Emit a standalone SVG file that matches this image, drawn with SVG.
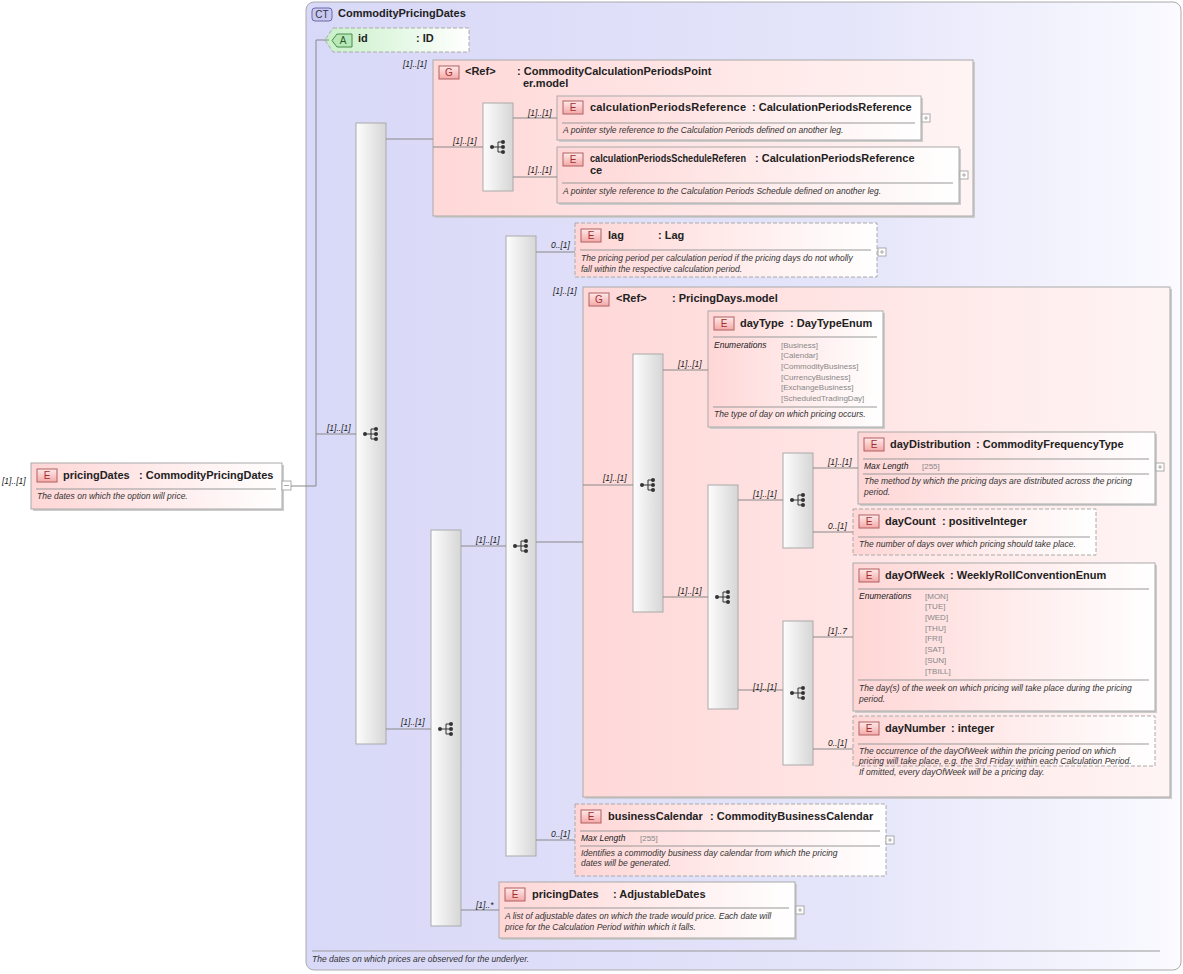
<svg xmlns="http://www.w3.org/2000/svg" width="1183" height="974" viewBox="0 0 1183 974">
<defs>
<linearGradient id="gct" x1="0" x2="1" y1="0" y2="0"><stop offset="0" stop-color="#d8d8f8"/><stop offset="0.6" stop-color="#e4e4fa"/><stop offset="1" stop-color="#fafaff"/></linearGradient>
<linearGradient id="gel" x1="0" x2="1" y1="0" y2="0"><stop offset="0" stop-color="#ffd6d6"/><stop offset="1" stop-color="#ffffff"/></linearGradient>
<linearGradient id="ggr" x1="0" x2="1" y1="0" y2="0"><stop offset="0" stop-color="#ffd8d8"/><stop offset="1" stop-color="#fff4f4"/></linearGradient>
<linearGradient id="gat" x1="0" x2="1" y1="0" y2="0"><stop offset="0" stop-color="#c8f0c8"/><stop offset="1" stop-color="#ffffff"/></linearGradient>
<linearGradient id="gseq" x1="0" x2="1" y1="0" y2="0"><stop offset="0" stop-color="#fdfdfd"/><stop offset="1" stop-color="#d6d6d6"/></linearGradient>
<linearGradient id="gbad" x1="0" x2="0" y1="0" y2="1"><stop offset="0" stop-color="#ffeaea"/><stop offset="1" stop-color="#f4a8a8"/></linearGradient>
<symbol id="seqi" viewBox="-9 -9 18 18" width="18" height="18" overflow="visible">
<circle cx="-6" cy="0" r="2" fill="#333"/><path d="M-6 0H0M0 -5V5M0 -5H5M0 0H5M0 5H5" stroke="#333" fill="none" stroke-width="1"/>
<circle cx="5" cy="-5" r="2" fill="#333"/><circle cx="5" cy="0" r="2" fill="#333"/><circle cx="5" cy="5" r="2" fill="#333"/>
</symbol>
</defs>
<style>
text{font-family:"Liberation Sans",Arial,sans-serif;fill:#222}
.n{font-size:11px;font-weight:bold}
.d{font-size:8.5px;font-style:italic;fill:#333}
.m{font-size:8.5px;font-style:italic;fill:#222}
.v{font-size:8px;fill:#888}
.b{font-size:10px;fill:#a03030;text-anchor:middle}
.el{fill:url(#gel);stroke:#aaa;stroke-width:1}
.sh{fill:#ccc;stroke:none}
.dash{stroke-dasharray:4 2}
.sep{stroke:#999;stroke-width:1}
.bad{fill:url(#gbad);stroke:#b06060;stroke-width:1}
.seq{fill:url(#gseq);stroke:#aaa;stroke-width:1}
.c path{stroke:#888;fill:none;stroke-width:1}
.pl{fill:#fff;stroke:#aaa}
.pls{stroke:#aaa}
</style>
<g id="ct">
<rect x="306" y="2" width="875" height="968" rx="8" fill="url(#gct)" stroke="#aaa"/>
<rect x="312" y="8" width="20" height="13" rx="3" fill="#c8c8f0" stroke="#6a6aa8"/>
<text x="322" y="18" style="font-size:10px;fill:#334;text-anchor:middle">CT</text>
<text x="338" y="17" class="n">CommodityPricingDates</text>
<path d="M312 951H1160" class="sep"/>
<text x="312" y="962" class="d">The dates on which prices are observed for the underlyer.</text>
</g>
<g id="root">
<rect x="33" y="465" width="251" height="46" class="sh"/>
<rect x="31" y="463" width="251" height="46" class="el"/>
<rect x="37" y="469" width="20" height="13" class="bad"/><text x="47" y="479" class="b">E</text>
<text x="63" y="479" class="n">pricingDates</text><text x="139" y="479" class="n">: CommodityPricingDates</text>
<path d="M36 489H276" class="sep"/>
<text x="37" y="499" class="d">The dates on which the option will price.</text>
<rect x="282" y="481" width="9" height="9" class="pl"/><path d="M284 485.5H289" class="pls"/>
</g>
<g id="attr-id">
<path d="M333 28H469V52H333L325 40Z" fill="url(#gat)" stroke="#aaa" stroke-dasharray="4 2"/>
<path d="M337 34H352V47H337L332 40.5Z" fill="#b8e8b8" stroke="#4a8a4a"/>
<text x="343" y="44" style="font-size:10px;fill:#2a5a2a;text-anchor:middle">A</text>
<text x="358" y="42" class="n">id</text><text x="416" y="42" class="n">: ID</text>
</g>
<g id="seq1"><rect x="356" y="123" width="30" height="621" class="seq"/><use href="#seqi" x="362" y="425"/></g>
<g id="grp1">
<rect x="435" y="62" width="540" height="156" class="sh"/>
<rect x="433" y="60" width="540" height="156" fill="url(#ggr)" stroke="#aaa"/>
<rect x="439" y="66" width="20" height="13" class="bad"/><text x="449" y="76" class="b">G</text>
<text x="465" y="75" class="n">&lt;Ref&gt;</text>
<text x="517" y="75" class="n">: CommodityCalculationPeriodsPoint</text>
<text x="523" y="87" class="n">er.model</text>
</g>
<g id="seq2"><rect x="483" y="103" width="30" height="88" class="seq"/><use href="#seqi" x="489" y="138"/></g>
<g id="calcRef">
<rect x="559" y="98" width="364" height="44" class="sh"/>
<rect x="557" y="96" width="364" height="44" class="el"/>
<rect x="563" y="101" width="20" height="13" class="bad"/><text x="573" y="111" class="b">E</text>
<text x="590" y="111" class="n" textLength="156">calculationPeriodsReference</text><text x="752" y="111" class="n">: CalculationPeriodsReference</text>
<path d="M562 123H915" class="sep"/>
<text x="563" y="133" class="d">A pointer style reference to the Calculation Periods defined on another leg.</text>
<rect x="922" y="114" width="8" height="8" class="pl"/><path d="M924 118H928M926 116V120" class="pls"/>
</g>
<g id="calcSched">
<rect x="559" y="149" width="402" height="56" class="sh"/>
<rect x="557" y="147" width="402" height="56" class="el"/>
<rect x="563" y="153" width="20" height="13" class="bad"/><text x="573" y="163" class="b">E</text>
<text x="590" y="162" class="n" textLength="156" lengthAdjust="spacingAndGlyphs">calculationPeriodsScheduleReferen</text><text x="755" y="162" class="n">: CalculationPeriodsReference</text>
<text x="590" y="174" class="n">ce</text>
<path d="M562 183H953" class="sep"/>
<text x="563" y="194" class="d">A pointer style reference to the Calculation Periods Schedule defined on another leg.</text>
<rect x="960" y="171" width="8" height="8" class="pl"/><path d="M962 175H966M964 173V177" class="pls"/>
</g>
<g id="seq3"><rect x="431" y="530" width="30" height="396" class="seq"/><use href="#seqi" x="437" y="720"/></g>
<g id="seq4"><rect x="506" y="236" width="30" height="620" class="seq"/><use href="#seqi" x="512" y="537"/></g>
<g id="lag">
<rect x="575" y="223" width="302" height="54" class="el dash"/>
<rect x="581" y="229" width="20" height="13" class="bad"/><text x="591" y="239" class="b">E</text>
<text x="608" y="239" class="n">lag</text><text x="658" y="239" class="n">: Lag</text>
<path d="M580 250H871" class="sep"/>
<text x="581" y="261" class="d">The pricing period per calculation period if the pricing days do not wholly</text>
<text x="581" y="272" class="d">fall within the respective calculation period.</text>
<rect x="878" y="248" width="8" height="8" class="pl"/><path d="M880 252H884M882 250V254" class="pls"/>
</g>
<g id="grp2">
<rect x="585" y="289" width="587" height="510" class="sh"/>
<rect x="583" y="287" width="587" height="510" fill="url(#ggr)" stroke="#aaa"/>
<rect x="589" y="293" width="20" height="13" class="bad"/><text x="599" y="303" class="b">G</text>
<text x="616" y="302" class="n">&lt;Ref&gt;</text><text x="672" y="302" class="n">: PricingDays.model</text>
</g>
<g id="seq5"><rect x="633" y="354" width="30" height="258" class="seq"/><use href="#seqi" x="639" y="476"/></g>
<g id="dayType">
<rect x="710" y="313" width="175" height="116" class="sh"/>
<rect x="708" y="311" width="175" height="116" class="el"/>
<rect x="714" y="317" width="20" height="13" class="bad"/><text x="724" y="327" class="b">E</text>
<text x="740" y="327" class="n">dayType</text><text x="790" y="327" class="n">: DayTypeEnum</text>
<path d="M713 337H877" class="sep"/>
<text x="714" y="348" class="m">Enumerations</text>
<text x="781" y="348" class="v">[Business]</text><text x="781" y="358" class="v">[Calendar]</text><text x="781" y="369" class="v">[CommodityBusiness]</text><text x="781" y="380" class="v">[CurrencyBusiness]</text><text x="781" y="390" class="v">[ExchangeBusiness]</text><text x="781" y="401" class="v">[ScheduledTradingDay]</text>
<path d="M713 407H877" class="sep"/>
<text x="714" y="417" class="d">The type of day on which pricing occurs.</text>
</g>
<g id="seq6"><rect x="708" y="485" width="30" height="224" class="seq"/><use href="#seqi" x="714" y="588"/></g>
<g id="seq7"><rect x="783" y="453" width="30" height="95" class="seq"/><use href="#seqi" x="789" y="491"/></g>
<g id="seq8"><rect x="783" y="621" width="30" height="144" class="seq"/><use href="#seqi" x="789" y="684"/></g>
<g id="dayDistribution">
<rect x="860" y="434" width="297" height="72" class="sh"/>
<rect x="858" y="432" width="297" height="72" class="el"/>
<rect x="864" y="438" width="20" height="13" class="bad"/><text x="874" y="448" class="b">E</text>
<text x="890" y="448" class="n">dayDistribution</text><text x="976" y="448" class="n">: CommodityFrequencyType</text>
<path d="M863 459H1149" class="sep"/>
<text x="864" y="469" class="m">Max Length</text><text x="922" y="469" class="v">[255]</text>
<path d="M863 474H1149" class="sep"/>
<text x="864" y="484" class="d">The method by which the pricing days are distributed across the pricing</text>
<text x="864" y="495" class="d">period.</text>
<rect x="1156" y="463" width="8" height="8" class="pl"/><path d="M1158 467H1162M1160 465V469" class="pls"/>
</g>
<g id="dayCount">
<rect x="853" y="509" width="243" height="46" class="el dash"/>
<rect x="859" y="515" width="20" height="13" class="bad"/><text x="869" y="525" class="b">E</text>
<text x="885" y="525" class="n">dayCount</text><text x="942" y="525" class="n">: positiveInteger</text>
<path d="M858 537H1090" class="sep"/>
<text x="859" y="547" class="d">The number of days over which pricing should take place.</text>
</g>
<g id="dayOfWeek">
<rect x="855" y="565" width="302" height="148" class="sh"/>
<rect x="853" y="563" width="302" height="148" class="el"/>
<rect x="859" y="569" width="20" height="13" class="bad"/><text x="869" y="579" class="b">E</text>
<text x="885" y="579" class="n">dayOfWeek</text><text x="950" y="579" class="n">: WeeklyRollConventionEnum</text>
<path d="M858 589H1149" class="sep"/>
<text x="859" y="599" class="m">Enumerations</text>
<text x="925" y="599" class="v">[MON]</text><text x="925" y="609" class="v">[TUE]</text><text x="925" y="620" class="v">[WED]</text><text x="925" y="631" class="v">[THU]</text><text x="925" y="641" class="v">[FRI]</text><text x="925" y="652" class="v">[SAT]</text><text x="925" y="663" class="v">[SUN]</text><text x="925" y="674" class="v">[TBILL]</text>
<path d="M858 680H1149" class="sep"/>
<text x="859" y="691" class="d">The day(s) of the week on which pricing will take place during the pricing</text>
<text x="859" y="702" class="d">period.</text>
</g>
<g id="dayNumber">
<rect x="853" y="716" width="302" height="50" class="el dash"/>
<rect x="859" y="722" width="20" height="13" class="bad"/><text x="869" y="732" class="b">E</text>
<text x="885" y="732" class="n">dayNumber</text><text x="951" y="732" class="n">: integer</text>
<path d="M858 744H1149" class="sep"/>
<text x="859" y="754" class="d">The occurrence of the dayOfWeek within the pricing period on which</text>
<text x="859" y="764" class="d">pricing will take place, e.g. the 3rd Friday within each Calculation Period.</text>
<text x="859" y="775" class="d">If omitted, every dayOfWeek will be a pricing day.</text>
</g>
<g id="businessCalendar">
<rect x="575" y="804" width="311" height="72" class="el dash"/>
<rect x="581" y="810" width="20" height="13" class="bad"/><text x="591" y="820" class="b">E</text>
<text x="608" y="820" class="n">businessCalendar</text><text x="710" y="820" class="n">: CommodityBusinessCalendar</text>
<path d="M580 831H880" class="sep"/>
<text x="581" y="841" class="m">Max Length</text><text x="640" y="841" class="v">[255]</text>
<path d="M580 846H880" class="sep"/>
<text x="581" y="856" class="d">Identifies a commodity business day calendar from which the pricing</text>
<text x="581" y="866" class="d">dates will be generated.</text>
<rect x="886" y="836" width="8" height="8" class="pl"/><path d="M888 840H892M890 838V842" class="pls"/>
</g>
<g id="pricingDates2">
<rect x="501" y="884" width="296" height="56" class="sh"/>
<rect x="499" y="882" width="296" height="56" class="el"/>
<rect x="505" y="888" width="20" height="13" class="bad"/><text x="515" y="898" class="b">E</text>
<text x="532" y="898" class="n">pricingDates</text><text x="613" y="898" class="n">: AdjustableDates</text>
<path d="M504 908H789" class="sep"/>
<text x="505" y="919" class="d">A list of adjustable dates on which the trade would price. Each date will</text>
<text x="505" y="930" class="d">price for the Calculation Period within which it falls.</text>
<rect x="796" y="906" width="8" height="8" class="pl"/><path d="M798 910H802M800 908V912" class="pls"/>
</g>
<g class="c" id="connectors">
<path d="M291 486H316V40H329M316 434H356"/>
<path d="M386 139H433M433 147H483M513 118H557M513 177H557"/>
<path d="M386 729H431M461 546H506M461 910H499"/>
<path d="M536 252H575M536 542H583M536 840H575"/>
<path d="M583 485H633M663 370H708M663 597H708M738 500H783M738 690H783"/>
<path d="M813 468H858M813 532H853M813 637H853M813 749H853"/>
</g>
<g id="labels" class="m">
<text x="2" y="484">[1]..[1]</text>
<text x="327" y="431">[1]..[1]</text>
<text x="403" y="67">[1]..[1]</text>
<text x="453" y="144">[1]..[1]</text>
<text x="528" y="116">[1]..[1]</text>
<text x="528" y="173">[1]..[1]</text>
<text x="401" y="725">[1]..[1]</text>
<text x="476" y="543">[1]..[1]</text>
<text x="476" y="908">[1]..*</text>
<text x="551" y="248">0..[1]</text>
<text x="553" y="294">[1]..[1]</text>
<text x="551" y="837">0..[1]</text>
<text x="603" y="481">[1]..[1]</text>
<text x="678" y="367">[1]..[1]</text>
<text x="678" y="594">[1]..[1]</text>
<text x="753" y="497">[1]..[1]</text>
<text x="753" y="690">[1]..[1]</text>
<text x="828" y="465">[1]..[1]</text>
<text x="828" y="529">0..[1]</text>
<text x="828" y="634">[1]..7</text>
<text x="828" y="746">0..[1]</text>
</g>
</svg>
